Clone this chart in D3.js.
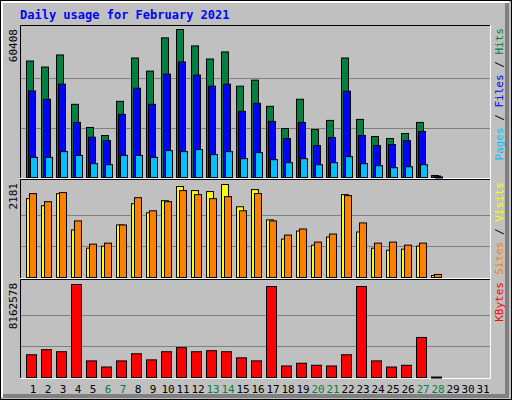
<!DOCTYPE html>
<html>
<head>
<meta charset="utf-8" />
<script src="https://cdnjs.cloudflare.com/ajax/libs/d3/7.8.5/d3.min.js"></script>
<style>
  body { margin: 0; background: #fff; }
  text { font-family: 'DejaVu Sans Mono', monospace; }
</style>
</head>
<body>
<div id="chart"></div>
<script>
    const days = d3.range(1, 32)
    const weekend = [6, 7, 13, 14, 20, 21, 27, 28]
    const hits = [47540, 45080, 50010, 29870, 20420, 17130, 31100, 48770, 43430, 56990, 60408, 53710, 48360, 51240,
                  37270, 39730, 29050, 20010, 31930, 19600, 23300, 48770, 23710, 16720, 15900, 17960, 22480, 800]
    const files = [35340, 31930, 38090, 22480, 16440, 15080, 25760, 36450, 29870, 42200, 47130, 41790, 37270, 38090,
                   27000, 30280, 22890, 15900, 22480, 13030, 16310, 35220, 17130, 13030, 13440, 15080, 18780, 600]
    const pages = [8220, 8220, 10560, 9040, 5630, 5220, 9040, 9040, 8220, 10970, 10560, 11380, 9330, 10560,
                   7680, 10150, 7270, 6040, 7680, 5220, 6040, 8510, 5630, 4810, 3990, 4400, 5220, 200]
    const visits = [1849, 1683, 1967, 1114, 687, 735, 1232, 1730, 1517, 1801, 2133, 2038, 2015, 2181,
                    1659, 2062, 1351, 901, 1090, 758, 948, 1943, 1067, 687, 640, 664, 735, 47]
    const sites = [1967, 1778, 1991, 1327, 782, 806, 1232, 1872, 1564, 1778, 2038, 1943, 1849, 1896,
                   1564, 1967, 1327, 995, 1138, 830, 1019, 1920, 1280, 806, 830, 758, 806, 71]
    const kbytes = [1993700, 2440700, 2262000, 8162578, 1457300, 920900, 1457300, 2083100, 1546700, 2262000,
                    2619500, 2262000, 2351900, 2262000, 1725500, 1457300, 7983800, 1010300, 1251700, 1072800,
                    1010300, 1993700, 7983800, 1457300, 920900, 1072800, 3513600, 40000]

    const svg = d3.select('#chart').append('svg')
        .attr('width', 512).attr('height', 400)

    // frame
    svg.append('rect').attr('width', 512).attr('height', 400).attr('fill', '#c0c0c0')
    svg.append('rect').attr('x', 0.5).attr('y', 0.5).attr('width', 511).attr('height', 399)
        .attr('fill', 'none').attr('stroke', '#000')
    svg.append('path').attr('d', 'M2,397V2H509').attr('stroke', '#fff').attr('stroke-width', 2).attr('fill', 'none')
    svg.append('path').attr('d', 'M3,396H507V3').attr('stroke', '#808080').attr('stroke-width', 4).attr('fill', 'none')

    svg.append('text').attr('x', 20).attr('y', 19)
        .attr('fill', '#0000ff').attr('font-size', 12).attr('font-weight', 'bold')
        .text('Daily usage for February 2021')

    const x = d3.scaleLinear().domain([1, 2]).range([26, 41])

    function panel(y0, y1, top, max, label, legend, series) {
        svg.append('path').attr('d', `M20.5,${y1}V${y0 + 0.5}H490`).attr('stroke', '#000').attr('fill', 'none')
        svg.append('path').attr('d', `M20,${y1 - 0.5}H490.5V${y0}`).attr('stroke', '#fff').attr('fill', 'none')
        const base = y1 - 2
        const y = d3.scaleLinear().domain([0, max]).range([base, top])
        const grid = [base - (base - top) / 3, base - 2 * (base - top) / 3]
        svg.selectAll(null).data(grid).join('line')
            .attr('x1', 21).attr('x2', 490).attr('y1', d => Math.round(d) + 0.5).attr('y2', d => Math.round(d) + 0.5)
            .attr('stroke', '#808080')
        svg.append('text')
            .attr('transform', `translate(17,${y0 + 4}) rotate(-90)`)
            .attr('text-anchor', 'end').attr('font-size', 11).attr('fill', '#000')
            .text(label)
        series.forEach(s => {
            svg.selectAll(null).data(s.data).join('rect')
                .attr('x', (d, i) => x(i + 1) + s.dx + 0.5)
                .attr('y', d => y(d) + 0.5)
                .attr('width', s.w)
                .attr('height', d => Math.max(base - y(d), 1))
                .attr('fill', s.color).attr('stroke', '#000')
        })
        const t = svg.append('text')
            .attr('transform', `translate(503,${y0 + 3}) rotate(-90)`)
            .attr('text-anchor', 'end').attr('font-size', 11)
        legend.forEach((l, i) => {
            if (i > 0) t.append('tspan').attr('fill', '#000').text(' / ')
            t.append('tspan').attr('fill', l[1]).text(l[0])
        })
    }

    panel(25, 179, 29, 60408, '60408',
        [['Hits', '#008040'], ['Files', '#0000ff'], ['Pages', '#00c0ff']].reverse(),
        [{ data: hits, dx: 0, w: 7, color: '#008040' },
         { data: files, dx: 2, w: 7, color: '#0000ff' },
         { data: pages, dx: 4, w: 7, color: '#00c0ff' }])
    panel(179, 279, 184, 2181, '2181',
        [['Sites', '#ff8000'], ['Visits', '#ffff00']],
        [{ data: visits, dx: 0, w: 7, color: '#ffff00' },
         { data: sites, dx: 3, w: 7, color: '#ff8000' }])
    panel(279, 379, 284, 8162578, '8162578',
        [['KBytes', '#ff0000']],
        [{ data: kbytes, dx: 0, w: 10, color: '#ff0000' }])

    svg.selectAll(null).data(days).join('text')
        .attr('x', d => x(d) + 7).attr('y', 393)
        .attr('text-anchor', 'middle').attr('font-size', 11)
        .attr('font-family', 'DejaVu Sans')
        .attr('fill', d => weekend.includes(d) ? '#008040' : '#000')
        .text(d => d)
</script>
</body>
</html>
